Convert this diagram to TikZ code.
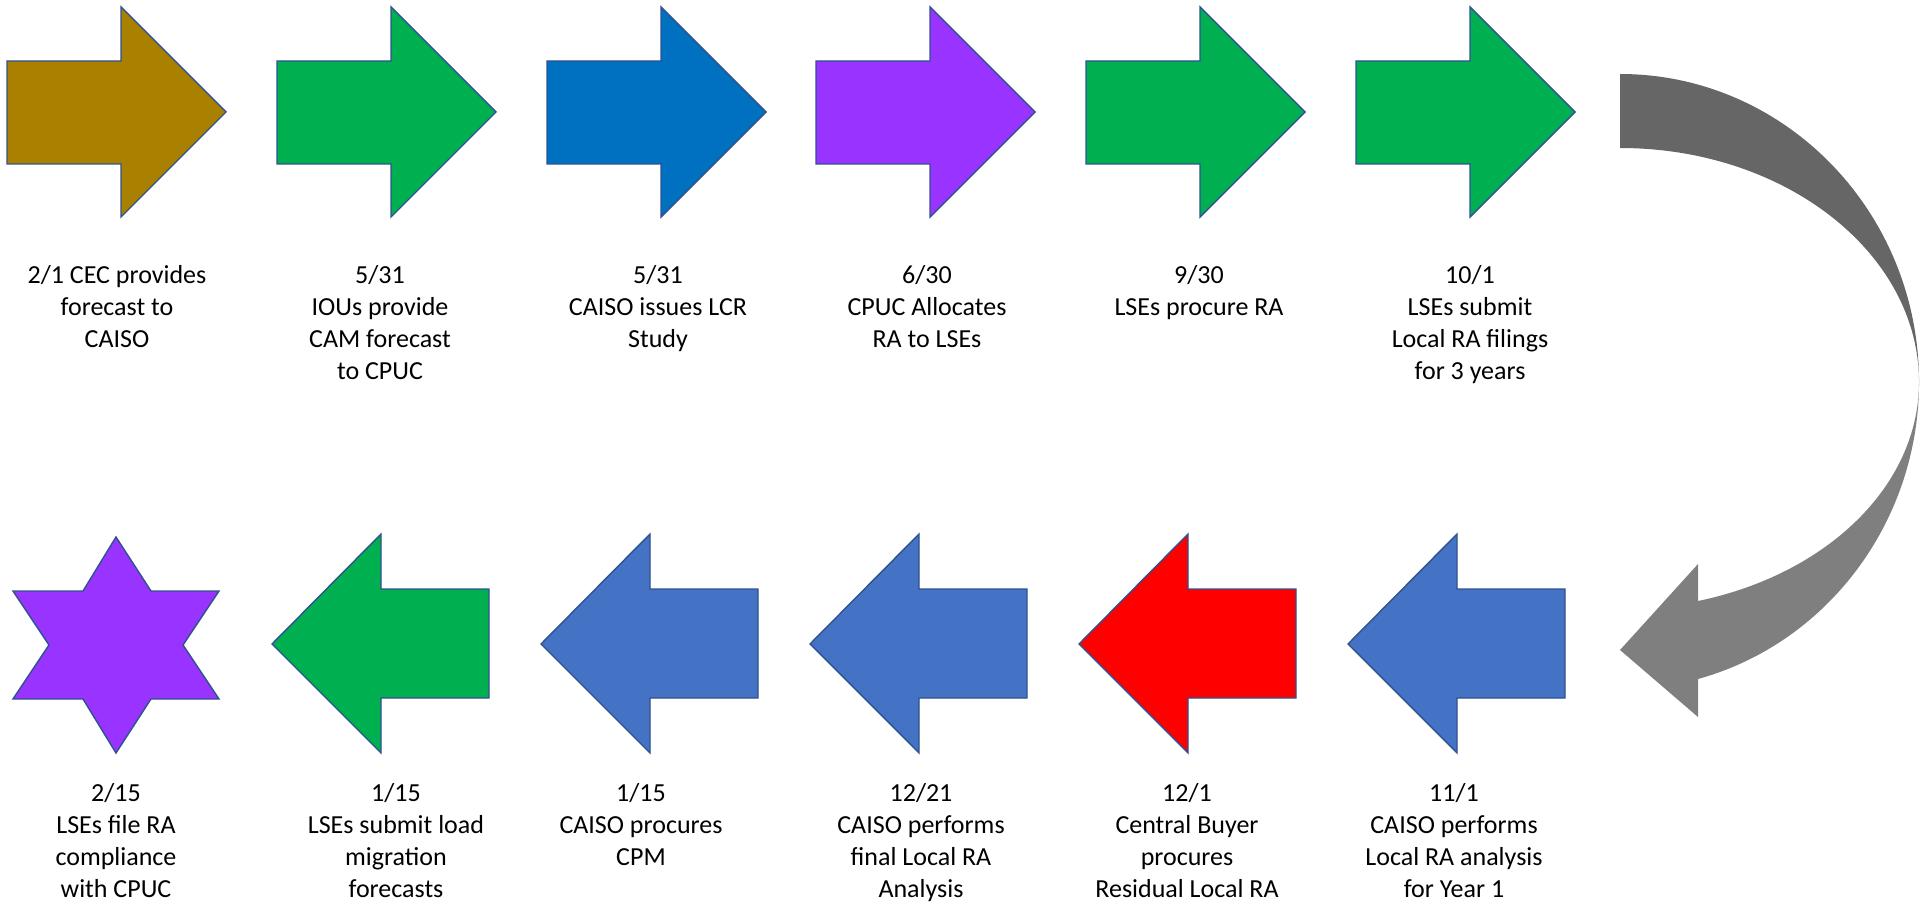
\documentclass[tikz,border=0pt]{standalone}
\usepackage{fontspec}
\setmainfont{Carlito}
\usepackage{tikz}

\definecolor{ochre}{HTML}{AA8000}
\definecolor{leaf}{HTML}{00B050}
\definecolor{ocean}{HTML}{0070C0}
\definecolor{violet}{HTML}{9933FF}
\definecolor{steel}{HTML}{4472C4}
\definecolor{alarm}{HTML}{FF0000}
\definecolor{rim}{HTML}{2F528F}
\definecolor{backgrey}{HTML}{666666}
\definecolor{frontgrey}{HTML}{7F7F7F}

\tikzset{
	blk/.style={draw=rim, line width=0.8pt, line join=miter},
	lbl/.style={align=center, inner sep=0pt, anchor=north, font=\fontsize{14.8}{18.3}\selectfont, execute at begin node=\strut}
}

\begin{document}
\begin{tikzpicture}[x=0.02cm, y=-0.02cm]
		\begingroup
		\useasboundingbox (0,0) rectangle (1932,905);
		
		% first year: arrows pointing right
		\draw[blk, fill=ochre] (7,61) -- ++(114,0) -- ++(0,-54) -- ++(105,105) -- ++(-105,105) -- ++(0,-53) -- ++(-114,0) -- cycle;
		\draw[blk, fill=leaf] (277,61) -- ++(114,0) -- ++(0,-54) -- ++(105,105) -- ++(-105,105) -- ++(0,-53) -- ++(-114,0) -- cycle;
		\draw[blk, fill=ocean] (547,61) -- ++(114,0) -- ++(0,-54) -- ++(105,105) -- ++(-105,105) -- ++(0,-53) -- ++(-114,0) -- cycle;
		\draw[blk, fill=violet] (816,61) -- ++(114,0) -- ++(0,-54) -- ++(105,105) -- ++(-105,105) -- ++(0,-53) -- ++(-114,0) -- cycle;
		\draw[blk, fill=leaf] (1086,61) -- ++(114,0) -- ++(0,-54) -- ++(105,105) -- ++(-105,105) -- ++(0,-53) -- ++(-114,0) -- cycle;
		\draw[blk, fill=leaf] (1356,61) -- ++(114,0) -- ++(0,-54) -- ++(105,105) -- ++(-105,105) -- ++(0,-53) -- ++(-114,0) -- cycle;
		
		\node[lbl] (cec) at (117,265) {2/1 CEC provides\\forecast to\\CAISO};
		\node[lbl] (cam) at (380,265) {5/31\\IOUs provide\\CAM forecast\\to CPUC};
		\node[lbl] (lcr) at (658,265) {5/31\\CAISO issues LCR\\Study};
		\node[lbl] (alloc) at (927,265) {6/30\\CPUC Allocates\\RA to LSEs};
		\node[lbl] (procure) at (1199,265) {9/30\\LSEs procure RA};
		\node[lbl] (filing) at (1470,265) {10/1\\LSEs submit\\Local RA filings\\for 3 years};
		
		% turn-around arrow
		\fill[backgrey] (1620,74) .. controls (1785,74) and (1919,212) .. (1919,382)
			.. controls (1919,253) and (1785,148) .. (1620,148) -- cycle;
		\fill[frontgrey] (1919,382) .. controls (1919,521) and (1828,643) .. (1698,679)
			-- (1698,717) -- (1620,650) -- (1698,564) -- (1698,601)
			.. controls (1828,574) and (1919,485) .. (1919,382) -- cycle;
		
		% second year: arrows pointing left
		\draw[blk, fill=steel] (1348,644) -- ++(109,-110) -- ++(0,55) -- ++(108,0) -- ++(0,109) -- ++(-108,0) -- ++(0,55) -- cycle;
		\draw[blk, fill=alarm] (1079,644) -- ++(109,-110) -- ++(0,55) -- ++(108,0) -- ++(0,109) -- ++(-108,0) -- ++(0,55) -- cycle;
		\draw[blk, fill=steel] (810,644) -- ++(109,-110) -- ++(0,55) -- ++(108,0) -- ++(0,109) -- ++(-108,0) -- ++(0,55) -- cycle;
		\draw[blk, fill=steel] (541,644) -- ++(109,-110) -- ++(0,55) -- ++(108,0) -- ++(0,109) -- ++(-108,0) -- ++(0,55) -- cycle;
		\draw[blk, fill=leaf] (272,644) -- ++(109,-110) -- ++(0,55) -- ++(108,0) -- ++(0,109) -- ++(-108,0) -- ++(0,55) -- cycle;
		
		% deadline star
		\draw[blk, fill=violet] (116,537) -- (151,591) -- (219,591) -- (183,645) -- (219,699) -- (151,699)
			-- (116,753) -- (83,699) -- (13,699) -- (49,645) -- (13,591) -- (83,591) -- cycle;
		
		\node[lbl] (analysis) at (1454,783) {11/1\\CAISO performs\\Local RA analysis\\for Year 1};
		\node[lbl] (buyer) at (1187,783) {12/1\\Central Buyer\\procures\\Residual Local RA};
		\node[lbl] (final) at (921,783) {12/21\\CAISO performs\\final Local RA\\Analysis};
		\node[lbl] (cpm) at (641,783) {1/15\\CAISO procures\\CPM};
		\node[lbl] (migr) at (396,783) {1/15\\LSEs submit load\\migration\\forecasts};
		\node[lbl] (comply) at (116,783) {2/15\\LSEs file RA\\compliance\\with CPUC};
		\endgroup
\end{tikzpicture}
\end{document}
